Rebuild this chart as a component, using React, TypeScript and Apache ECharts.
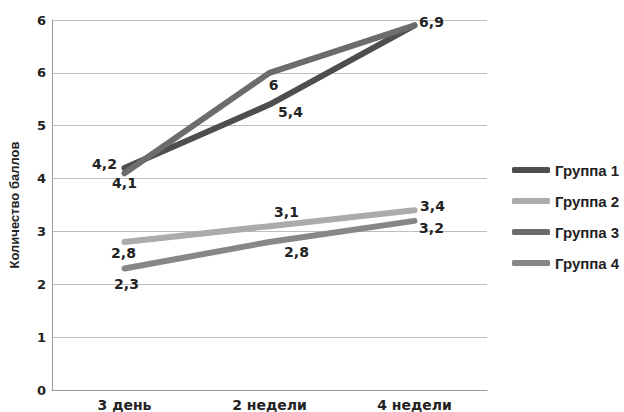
import React, { useEffect, useRef } from "react";
import * as echarts from "echarts";

const categories = ["3 день", "2 недели", "4 недели"];
const seriesNames = ["Группа 1", "Группа 2", "Группа 3", "Группа 4"];
const group1 = [4.2, 5.4, 6.9];
const group2 = [2.8, 3.1, 3.4];
const group3 = [4.1, 6, 6.9];
const group4 = [2.3, 2.8, 3.2];
const yTickLabels = ["0", "1", "2", "3", "4", "5", "6", "6"];

const colors = ["#4e4e4e", "#ababab", "#6c6c6c", "#878787"];
// label offsets (style only), per series per point; null = hidden
const labelOffsets: ([number, number] | null)[][] = [
  [[-20, -4], [21, 7], [17, -3]],
  [[-1, 11], [17, -14], [18, -4]],
  [[0, 10], [4, 12], null],
  [[2, 16], [27, 10], [17, 7]],
];

const fmt = (v: number) => String(v).replace(".", ",");

export default function App() {
  const ref = useRef<HTMLDivElement>(null);
  useEffect(() => {
    document.body.style.margin = "0";
    const chart = echarts.init(ref.current!, null, { renderer: "svg" });
    const all = [group1, group2, group3, group4];
    const font = "'Liberation Sans', Arial, Helvetica, sans-serif";
    const wide = "'DejaVu Sans', 'Liberation Sans', sans-serif";
    chart.setOption({
      animation: false,
      textStyle: { fontFamily: font },
      grid: { left: 50, right: 137, top: 20, bottom: 22, containLabel: false },
      legend: {
        orient: "vertical",
        left: 507,
        top: 157,
        itemWidth: 38,
        itemHeight: 6,
        itemGap: 15,
        icon: "roundRect",
        data: seriesNames,
        textStyle: { fontSize: 15, fontWeight: "bold", color: "#222", fontFamily: font, lineHeight: 16 },
      },
      xAxis: {
        type: "category",
        data: categories,
        boundaryGap: true,
        axisLine: { lineStyle: { color: "#999", width: 1 } },
        axisTick: { show: false },
        axisLabel: { fontSize: 14, fontWeight: "bold", color: "#222", margin: 8, fontFamily: wide },
      },
      yAxis: {
        type: "value",
        min: 0,
        max: 7,
        interval: 1,
        name: "Количество баллов",
        nameLocation: "middle",
        nameGap: 31,
        nameTextStyle: { fontSize: 13, fontWeight: "bold", color: "#222", fontFamily: font },
        axisLine: { show: true, lineStyle: { color: "#999", width: 1 } },
        axisTick: { show: false },
        splitLine: { lineStyle: { color: "#bdbdbd", width: 1 } },
        axisLabel: {
          fontSize: 13,
          fontWeight: "bold",
          color: "#222",
          margin: 6,
          fontFamily: wide,
          formatter: (v: number) => yTickLabels[Math.round(v)] ?? String(v),
        },
      },
      series: all.map((vals, si) => ({
        name: seriesNames[si],
        type: "line",
        color: colors[si],
        symbol: "circle",
        symbolSize: 2,
        lineStyle: { width: 6, color: colors[si], cap: "round", join: "round" },
        itemStyle: { color: colors[si] },
        data: vals.map((v, pi) => {
          const off = labelOffsets[si][pi];
          return {
            value: v,
            label: off
              ? {
                  show: true,
                  position: "inside",
                  offset: off,
                  formatter: fmt(v),
                  fontSize: 14,
                  fontWeight: "bold",
                  color: "#222",
                  fontFamily: wide,
                }
              : { show: false },
          };
        }),
      })),
    });
    return () => chart.dispose();
  }, []);
  return <div ref={ref} style={{ width: 624, height: 412 }} />;
}
